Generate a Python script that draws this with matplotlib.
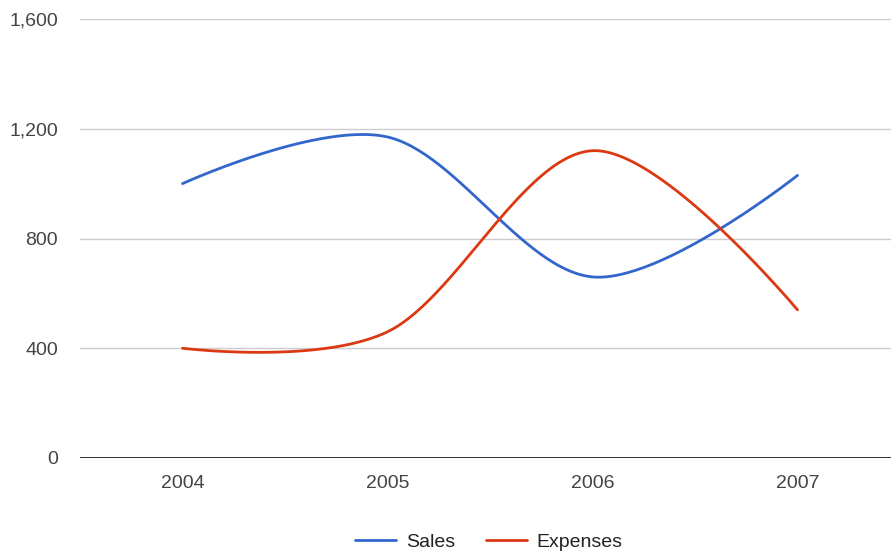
import numpy as np
import matplotlib.pyplot as plt

plt.rcParams['font.family'] = ['Liberation Sans', 'DejaVu Sans']

years = [2004, 2005, 2006, 2007]
sales = [1000, 1170, 660, 1030]
expenses = [400, 460, 1120, 540]
yticks = [0, 400, 800, 1200, 1600]


def smooth(xs, ys, n=60):
    # cubic bezier through the points, tangents from the neighbours
    xs = np.asarray(xs, float)
    ys = np.asarray(ys, float)
    k = len(xs)
    out_x, out_y = [], []
    t = np.linspace(0, 1, n)
    for i in range(k - 1):
        if i == 0:
            c1 = (xs[i], ys[i])
        else:
            c1 = (xs[i] + (xs[i + 1] - xs[i - 1]) / 6, ys[i] + (ys[i + 1] - ys[i - 1]) / 6)
        if i + 1 == k - 1:
            c2 = (xs[i + 1], ys[i + 1])
        else:
            c2 = (xs[i + 1] - (xs[i + 2] - xs[i]) / 6, ys[i + 1] - (ys[i + 2] - ys[i]) / 6)
        a = (1 - t) ** 3
        b = 3 * (1 - t) ** 2 * t
        c = 3 * (1 - t) * t ** 2
        d = t ** 3
        out_x.append(a * xs[i] + b * c1[0] + c * c2[0] + d * xs[i + 1])
        out_y.append(a * ys[i] + b * c1[1] + c * c2[1] + d * ys[i + 1])
    return np.concatenate(out_x), np.concatenate(out_y)


W, H = 891, 555
fig = plt.figure(figsize=(W / 100, H / 100), dpi=100)
left, right = 80, 900
top, bottom = 19, 458
ax = fig.add_axes([left / W, 1 - bottom / H, (right - left) / W, (bottom - top) / H])

for v in yticks[1:]:
    ax.axhline(v, color='#cccccc', lw=1, zorder=0)
ax.axhline(0, color='#333333', lw=1.4, zorder=3)

sx, sy = smooth(years, sales)
ex, ey = smooth(years, expenses)
ax.plot(sx, sy, color='#3366cc', lw=2, label='Sales', solid_capstyle='round')
ax.plot(ex, ey, color='#dc3912', lw=2, label='Expenses', solid_capstyle='round')

ax.set_xlim(2003.5, 2007.5)
ax.set_ylim(0, 1600)
ax.set_xticks(years)
ax.set_xticklabels([str(y) for y in years])
ax.set_yticks(yticks)
ax.set_yticklabels([f'{v:,}' for v in yticks])
ax.tick_params(length=0, labelsize=14, colors='#444444')
ax.tick_params(axis='x', pad=12)
ax.tick_params(axis='y', pad=16)
for s in ax.spines.values():
    s.set_visible(False)

fig.legend(loc='center', bbox_to_anchor=(489 / W, 1 - 542 / H), ncol=2, frameon=False,
           fontsize=14, handlelength=2.1, columnspacing=1.6, handletextpad=0.5,
           labelcolor='#222222')

fig.savefig('out.png', dpi=100)
